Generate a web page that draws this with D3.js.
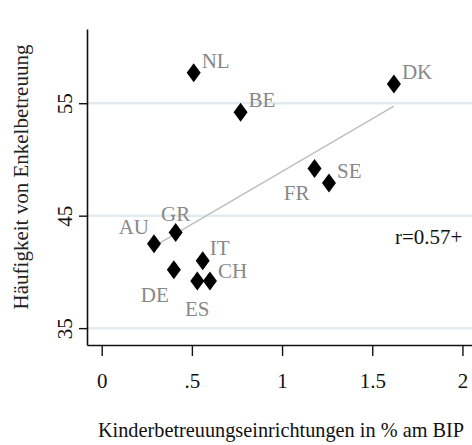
<!DOCTYPE html>
<html>
<head>
<meta charset="utf-8">
<script src="https://cdn.jsdelivr.net/npm/d3@7"></script>
<style>
  body { margin: 0; background: #fff; }
  text { font-family: "Liberation Serif", "Times New Roman", serif; }
</style>
</head>
<body>
<div class="viewbox"></div>
<script>
// country codes and the two values per country
const countries = ["NL", "BE", "DK", "FR", "SE", "AU", "GR", "DE", "IT", "ES", "CH"];
const childcare = [0.51, 0.77, 1.62, 1.18, 1.26, 0.29, 0.41, 0.40, 0.56, 0.53, 0.60];
const grandparenting = [57.7, 54.2, 56.7, 49.2, 47.9, 42.5, 43.5, 40.2, 41.0, 39.2, 39.2];

const xTicks = [0, 0.5, 1, 1.5, 2];
const xTickLabels = ["0", ".5", "1", "1.5", "2"];
const yTicks = [35, 45, 55];
const yTickLabels = ["35", "45", "55"];

const corrLabel = "r=0.57+";
const xTitle = "Kinderbetreuungseinrichtungen in % am BIP";
const yTitle = "Häufigkeit von Enkelbetreuung";

// label placement (clock position, like stata's mlabvpos)
const labelPos = { NL: 2, BE: 2, DK: 2, FR: 7, SE: 2, AU: 10, GR: 12, DE: 7, IT: 1, ES: 6, CH: 3 };

const svg_width = 472;
const svg_height = 445;

let svg = d3.select(".viewbox")
  .append("svg")
  .attr("width", svg_width)
  .attr("height", svg_height);

// plot region: y axis at x=87, x axis at y=345
let x = d3.scaleLinear().domain([-0.0815, 2.053]).range([87, 472]);
let y = d3.scaleLinear().domain([33.5, 61.6]).range([345, 29]);

let points = countries.map((c, i) => ({ code: c, x: childcare[i], y: grandparenting[i] }));

// gridlines
svg.append("g")
  .selectAll("line")
  .data(yTicks)
  .enter()
  .append("line")
  .attr("x1", 88)
  .attr("x2", svg_width)
  .attr("y1", d => y(d))
  .attr("y2", d => y(d))
  .attr("stroke", "#e2ecee")
  .attr("stroke-width", 2.5);

// x axis
let xAxis = svg.append("g")
  .attr("transform", "translate(0,345)")
  .call(d3.axisBottom(x).tickValues(xTicks).tickFormat((d, i) => xTickLabels[i]).tickSize(11).tickSizeOuter(0));
xAxis.select(".domain").attr("stroke", "#111").attr("stroke-width", 1.6);
xAxis.selectAll(".tick line").attr("stroke", "#111").attr("stroke-width", 1.4);
xAxis.selectAll(".tick text")
  .attr("y", 43).attr("dy", 0)
  .attr("font-size", 21)
  .attr("font-family", "Liberation Serif")
  .attr("fill", "#111");

// y axis
let yAxis = svg.append("g")
  .attr("transform", "translate(87,0)")
  .call(d3.axisLeft(y).tickValues(yTicks).tickFormat((d, i) => yTickLabels[i]).tickSize(8).tickSizeOuter(0));
yAxis.select(".domain").attr("stroke", "#111").attr("stroke-width", 1.6);
yAxis.selectAll(".tick line").attr("stroke", "#111").attr("stroke-width", 1.4);
yAxis.selectAll(".tick text")
  .attr("x", 0).attr("dy", 0)
  .attr("transform", "translate(-15,0) rotate(-90)")
  .attr("text-anchor", "middle")
  .attr("font-size", 21)
  .attr("font-family", "Liberation Serif")
  .attr("fill", "#111");

// linear fit, computed from the points
let mx = d3.mean(childcare), my = d3.mean(grandparenting);
let sxy = d3.sum(points, d => (d.x - mx) * (d.y - my));
let sxx = d3.sum(points, d => (d.x - mx) * (d.x - mx));
let slope = sxy / sxx;
let icpt = my - slope * mx;
let ext = d3.extent(childcare);
svg.append("line")
  .attr("x1", x(ext[0])).attr("y1", y(icpt + slope * ext[0]))
  .attr("x2", x(ext[1])).attr("y2", y(icpt + slope * ext[1]))
  .attr("stroke", "#bdbdbd")
  .attr("stroke-width", 1.3);

// diamonds, a bit taller than wide like the original
const diamond = {
  draw(ctx, size) {
    ctx.moveTo(0, -9.5);
    ctx.lineTo(7, 0);
    ctx.lineTo(0, 9.5);
    ctx.lineTo(-7, 0);
    ctx.closePath();
  }
};

svg.selectAll(".pt")
  .data(points)
  .enter()
  .append("path")
  .attr("class", "pt")
  .attr("d", d3.symbol().type(diamond))
  .attr("transform", d => `translate(${x(d.x)},${y(d.y)})`)
  .attr("fill", "#000");

// label offsets per clock position
function labelOffset(pos) {
  if (pos === 1) return { dx: 7, dy: -6, anchor: "start" };
  if (pos === 2) return { dx: 8, dy: -5, anchor: "start" };
  if (pos === 3) return { dx: 8, dy: -3, anchor: "start" };
  if (pos === 10) return { dx: -5, dy: -10, anchor: "end" };
  if (pos === 12) return { dx: 0, dy: -12, anchor: "middle" };
  if (pos === 7) return { dx: -5, dy: 32, anchor: "end" };
  if (pos === 6) return { dx: 0, dy: 35, anchor: "middle" };
  return { dx: 8, dy: 0, anchor: "start" };
}

svg.selectAll(".lbl")
  .data(points)
  .enter()
  .append("text")
  .attr("class", "lbl")
  .attr("x", d => x(d.x) + labelOffset(labelPos[d.code]).dx)
  .attr("y", d => y(d.y) + labelOffset(labelPos[d.code]).dy)
  .attr("text-anchor", d => labelOffset(labelPos[d.code]).anchor)
  .attr("font-size", 21)
  .attr("fill", "#888")
  .text(d => d.code);

// correlation note
svg.append("text")
  .attr("x", x(2))
  .attr("y", y(42.5))
  .attr("text-anchor", "end")
  .attr("font-size", 21)
  .attr("fill", "#111")
  .text(corrLabel);

// axis titles
svg.append("text")
  .attr("x", 281)
  .attr("y", 437)
  .attr("text-anchor", "middle")
  .attr("font-size", 20.3)
  .attr("fill", "#111")
  .text(xTitle);

svg.append("text")
  .attr("transform", "translate(28,177) rotate(-90)")
  .attr("text-anchor", "middle")
  .attr("font-size", 21)
  .attr("fill", "#222")
  .text(yTitle);
</script>
</body>
</html>
